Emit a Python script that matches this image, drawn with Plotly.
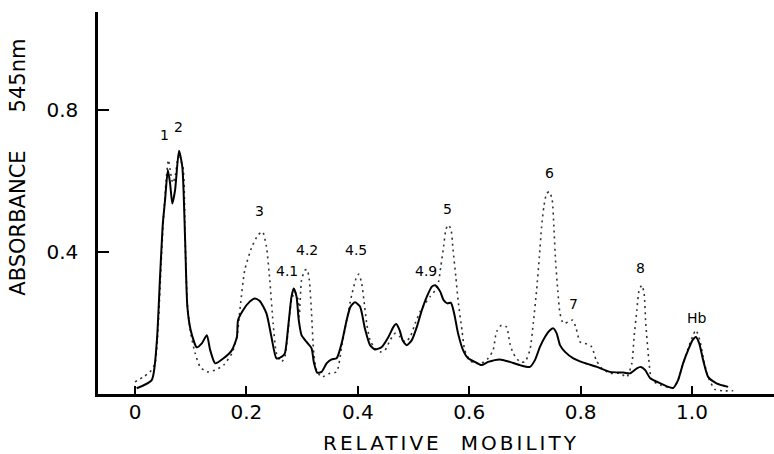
import plotly.graph_objects as go

solid_x = [0.003, 0.030, 0.039, 0.045, 0.050, 0.054, 0.059, 0.063, 0.067, 0.072, 0.079, 0.085,
           0.090, 0.094, 0.100, 0.111, 0.120, 0.129, 0.135, 0.144, 0.159, 0.174, 0.183, 0.185,
           0.194, 0.206, 0.215, 0.224, 0.236, 0.245, 0.254, 0.263, 0.269, 0.275, 0.281, 0.285,
           0.290, 0.294, 0.299, 0.308, 0.317, 0.321, 0.327, 0.335, 0.344, 0.353, 0.362, 0.371,
           0.380, 0.387, 0.395, 0.404, 0.413, 0.422, 0.431, 0.443, 0.455, 0.464, 0.469, 0.475,
           0.481, 0.488, 0.497, 0.506, 0.515, 0.524, 0.533, 0.539, 0.548, 0.554, 0.561, 0.567,
           0.573, 0.580, 0.589, 0.598, 0.610, 0.622, 0.634, 0.655, 0.673, 0.691, 0.709, 0.718,
           0.727, 0.736, 0.745, 0.751, 0.757, 0.763, 0.772, 0.787, 0.805, 0.829, 0.853, 0.877,
           0.889, 0.901, 0.908, 0.916, 0.925, 0.943, 0.966, 0.975, 0.984, 0.993, 1.001, 1.007,
           1.013, 1.020, 1.029, 1.044, 1.065]
solid_y = [0.019, 0.042, 0.146, 0.332, 0.481, 0.547, 0.631, 0.594, 0.537, 0.575, 0.685, 0.640,
           0.435, 0.248, 0.182, 0.134, 0.145, 0.168, 0.126, 0.089, 0.103, 0.126, 0.163, 0.210,
           0.238, 0.262, 0.271, 0.264, 0.229, 0.163, 0.103, 0.107, 0.117, 0.191, 0.276, 0.299,
           0.276, 0.210, 0.168, 0.149, 0.131, 0.093, 0.063, 0.065, 0.089, 0.100, 0.103, 0.145,
           0.210, 0.248, 0.260, 0.248, 0.185, 0.140, 0.128, 0.135, 0.163, 0.191, 0.199, 0.182,
           0.152, 0.140, 0.154, 0.191, 0.238, 0.276, 0.304, 0.308, 0.290, 0.266, 0.257, 0.259,
           0.229, 0.173, 0.126, 0.103, 0.093, 0.084, 0.093, 0.100, 0.093, 0.084, 0.079, 0.098,
           0.135, 0.163, 0.182, 0.187, 0.173, 0.140, 0.121, 0.103, 0.091, 0.079, 0.065, 0.063,
           0.061, 0.075, 0.079, 0.070, 0.047, 0.033, 0.020, 0.042, 0.089, 0.126, 0.154, 0.163,
           0.145, 0.098, 0.051, 0.033, 0.023]

dotted_x = [0.000, 0.015, 0.027, 0.036, 0.042, 0.047, 0.051, 0.056, 0.060, 0.064, 0.068, 0.072,
            0.078, 0.086, 0.090, 0.094, 0.099, 0.108, 0.117, 0.129, 0.144, 0.159, 0.174, 0.183,
            0.189, 0.197, 0.210, 0.221, 0.229, 0.236, 0.242, 0.248, 0.254, 0.263, 0.269, 0.275,
            0.281, 0.287, 0.293, 0.295, 0.299, 0.305, 0.309, 0.313, 0.317, 0.321, 0.326, 0.335,
            0.350, 0.362, 0.371, 0.380, 0.389, 0.398, 0.402, 0.407, 0.411, 0.416, 0.422, 0.431,
            0.440, 0.449, 0.458, 0.467, 0.476, 0.485, 0.494, 0.503, 0.512, 0.521, 0.530, 0.539,
            0.545, 0.549, 0.554, 0.558, 0.562, 0.567, 0.571, 0.576, 0.580, 0.587, 0.592, 0.601,
            0.610, 0.622, 0.634, 0.643, 0.649, 0.658, 0.667, 0.673, 0.679, 0.691, 0.700, 0.709,
            0.715, 0.721, 0.726, 0.730, 0.734, 0.739, 0.744, 0.749, 0.752, 0.755, 0.759, 0.763,
            0.769, 0.778, 0.786, 0.792, 0.799, 0.811, 0.820, 0.828, 0.838, 0.853, 0.871, 0.883,
            0.892, 0.896, 0.901, 0.905, 0.910, 0.914, 0.917, 0.922, 0.928, 0.943, 0.966, 0.975,
            0.984, 0.993, 1.002, 1.007, 1.014, 1.021, 1.029, 1.041, 1.056, 1.074]
dotted_y = [0.037, 0.051, 0.065, 0.089, 0.201, 0.369, 0.491, 0.603, 0.659, 0.622, 0.594, 0.612,
            0.668, 0.640, 0.435, 0.257, 0.182, 0.117, 0.079, 0.065, 0.070, 0.084, 0.117, 0.163,
            0.248, 0.350, 0.416, 0.449, 0.458, 0.416, 0.322, 0.201, 0.117, 0.093, 0.107, 0.182,
            0.266, 0.290, 0.266, 0.220, 0.322, 0.350, 0.352, 0.322, 0.229, 0.117, 0.070, 0.051,
            0.061, 0.065, 0.135, 0.210, 0.280, 0.332, 0.339, 0.313, 0.266, 0.201, 0.154, 0.131,
            0.121, 0.126, 0.154, 0.173, 0.163, 0.149, 0.163, 0.201, 0.234, 0.257, 0.276, 0.294,
            0.318, 0.360, 0.416, 0.463, 0.477, 0.467, 0.407, 0.332, 0.266, 0.182, 0.126, 0.098,
            0.089, 0.089, 0.103, 0.126, 0.177, 0.196, 0.191, 0.145, 0.117, 0.093, 0.093, 0.126,
            0.201, 0.294, 0.388, 0.472, 0.528, 0.565, 0.570, 0.547, 0.472, 0.378, 0.294, 0.229,
            0.201, 0.205, 0.210, 0.187, 0.149, 0.143, 0.135, 0.098, 0.075, 0.061, 0.061, 0.051,
            0.089, 0.163, 0.238, 0.294, 0.308, 0.285, 0.201, 0.107, 0.042, 0.028, 0.020, 0.042,
            0.089, 0.131, 0.168, 0.182, 0.154, 0.098, 0.051, 0.016, 0.012, 0.012]

# Peak labels
peak_labels = ["1", "2", "3", "4.1", "4.2", "4.5", "4.9", "5", "6", "7", "8", "Hb"]
peak_x = [0.0535, 0.079, 0.223, 0.273, 0.309, 0.396, 0.522, 0.561, 0.745, 0.787, 0.908, 1.0095]
peak_y = [0.729, 0.752, 0.517, 0.348, 0.408, 0.408, 0.348, 0.523, 0.622, 0.255, 0.355, 0.217]

x_tickvals = [0, 0.2, 0.4, 0.6, 0.8, 1.0]
x_ticktext = ["0", "0.2", "0.4", "0.6", "0.8", "1.0"]
y_tickvals = [0.4, 0.8]
y_ticktext = ["0.4", "0.8"]

FONT = "DejaVu Sans"

fig = go.Figure()
fig.add_trace(go.Scatter(x=dotted_x, y=dotted_y, mode="lines",
                         line=dict(color="#333333", width=1.6, dash="2px,4px", shape="spline", smoothing=0.6),
                         showlegend=False, hoverinfo="skip"))
fig.add_trace(go.Scatter(x=solid_x, y=solid_y, mode="lines",
                         line=dict(color="black", width=2, shape="spline", smoothing=0.6),
                         showlegend=False, hoverinfo="skip"))

for t, xv, yv in zip(peak_labels, peak_x, peak_y):
    fig.add_annotation(x=xv, y=yv, text=t, showarrow=False,
                       font=dict(family=FONT, size=14, color="black"),
                       xanchor="center", yanchor="middle")

title_font = dict(family=FONT, size=21, color="black")
fig.add_annotation(xref="paper", yref="paper", x=-0.1183, y=0.446, text="ABSORBANCE",
                   textangle=-90, showarrow=False, font=title_font,
                   xanchor="center", yanchor="middle")
fig.add_annotation(xref="paper", yref="paper", x=-0.1183, y=0.834, text="545nm",
                   textangle=-90, showarrow=False, font=title_font,
                   xanchor="center", yanchor="middle")
fig.add_annotation(xref="paper", yref="paper", x=0.522, y=-0.128,
                   text='<span style="letter-spacing:3px">RELATIVE</span>   <span style="letter-spacing:3px">MOBILITY</span>',
                   showarrow=False, font=dict(family=FONT, size=20, color="black"),
                   xanchor="center", yanchor="middle")

fig.update_xaxes(range=[-0.0664, 1.1472], showgrid=False, zeroline=False, automargin=False,
                 showline=True, linewidth=2.5, linecolor="black",
                 ticks="inside", ticklen=8, tickwidth=1.5, tickcolor="black",
                 tickvals=x_tickvals, ticktext=x_ticktext,
                 tickfont=dict(family=FONT, size=20, color="black"),
                 ticklabelstandoff=-2)
fig.update_yaxes(range=[0.003, 1.074], showgrid=False, zeroline=False, automargin=False,
                 showline=True, linewidth=2.5, linecolor="black",
                 ticks="inside", ticklen=11, tickwidth=1.5, tickcolor="black",
                 tickvals=y_tickvals, ticktext=y_ticktext,
                 tickfont=dict(family=FONT, size=20, color="black"),
                 ticklabelstandoff=13)

fig.update_layout(width=774, height=454, margin=dict(l=98, r=0, t=12, b=60),
                  paper_bgcolor="white", plot_bgcolor="white")

fig.write_html("out.html", post_script="document.body.style.margin='0';",
               config={"displayModeBar": False})
